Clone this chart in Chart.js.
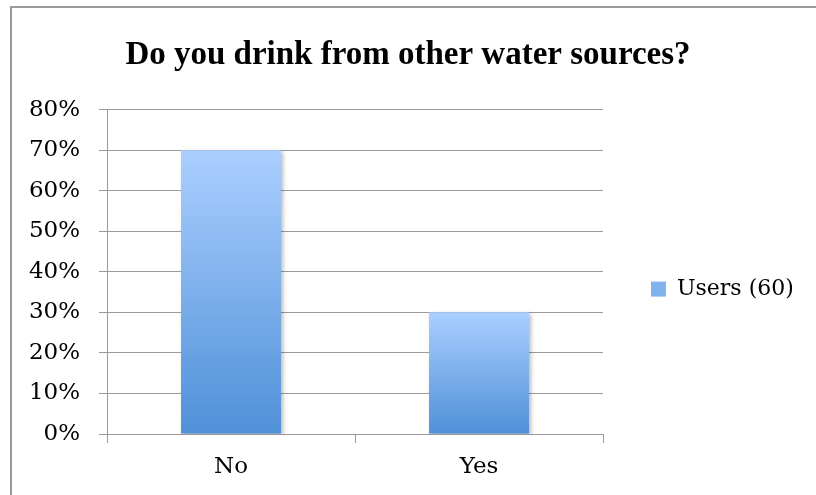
<!doctype html>
<html lang="en">
<head>
  <meta charset="UTF-8">
  <title>Other water sources</title>
  <script src="https://cdn.jsdelivr.net/npm/chart.js@4.4.0/dist/chart.umd.min.js"></script>
  <style>
      html, body {
          margin: 0;
          padding: 0;
          background: #fff;
          overflow: hidden;
      }
      .frame {
          position: absolute;
          left: 10px;
          top: 6px;
          width: 900px;
          height: 600px;
          border: 2px solid #9b9b9b;
      }
      .wrap {
          position: absolute;
          left: 0;
          top: 0;
          width: 816px;
          height: 495px;
      }
  </style>
</head>
<body>
<div class="frame"></div>
<div class="wrap">
  <canvas id="myChart" width="816" height="495"></canvas>
</div>

<script>
  const categories = ['No', 'Yes']
  const users = [70, 30]
  const yTicks = [0, 10, 20, 30, 40, 50, 60, 70, 80]
  const seriesName = 'Users (60)'
  const titleText = 'Do you drink from other water sources?'

  const serif = '"DejaVu Serif", serif'

  // per-bar vertical gradient: light at the top, darker at the base
  function barFill(ctx) {
    const chart = ctx.chart
    const area = chart.chartArea
    if (!area || ctx.dataIndex === undefined) return '#7fb0ec'
    const y = chart.scales.y
    const top = y.getPixelForValue(users[ctx.dataIndex])
    const base = y.getPixelForValue(0)
    const g = chart.ctx.createLinearGradient(0, top, 0, base)
    g.addColorStop(0, '#abcfff')
    g.addColorStop(1, '#4f90d8')
    return g
  }

  const barShadow = {
    id: 'barShadow',
    beforeDatasetsDraw(chart) {
      const c = chart.ctx
      c.save()
      c.shadowColor = 'rgba(0,0,0,0.28)'
      c.shadowBlur = 4
      c.shadowOffsetX = 2
      c.shadowOffsetY = 2
    },
    afterDatasetsDraw(chart) {
      chart.ctx.restore()
    }
  }

  // fixed legend column on the right side
  const legendWidth = {
    id: 'legendWidth',
    beforeInit(chart) {
      const lg = chart.legend
      if (!lg) return
      const fit = lg.fit
      lg.fit = function () {
        fit.call(this)
        this.width = 213
      }
    }
  }

  const chartDom = document.querySelector('#myChart')

  const chart = new Chart(chartDom, {
    type: 'bar',
    plugins: [barShadow, legendWidth],
    data: {
      labels: categories,
      datasets: [
        {
          label: seriesName,
          data: users,
          backgroundColor: barFill,
          borderWidth: 0,
          barPercentage: 0.403,
          categoryPercentage: 1
        }
      ]
    },
    options: {
      responsive: false,
      animation: false,
      devicePixelRatio: 1,
      layout: {
        padding: { left: 0, right: 0, top: 0, bottom: 0 }
      },
      plugins: {
        tooltip: { enabled: false },
        title: {
          display: true,
          text: titleText,
          color: '#000',
          font: { family: '"Liberation Serif", serif', size: 33, weight: 'bold' },
          padding: { top: 36, bottom: 34 }
        },
        legend: {
          position: 'right',
          align: 'center',
          // empty title only pushes the item down to the middle of the plot
          title: {
            display: true,
            text: '',
            color: '#000',
            font: { size: 1 },
            padding: { top: 82, bottom: 0 }
          },
          labels: {
            color: '#000',
            font: { family: serif, size: 22 },
            boxWidth: 15,
            boxHeight: 15,
            padding: 48,
            generateLabels: (ch) => [{
              text: seriesName,
              fillStyle: '#80b2ee',
              strokeStyle: '#80b2ee',
              fontColor: '#000',
              lineWidth: 0,
              hidden: false,
              datasetIndex: 0
            }]
          }
        }
      },
      scales: {
        x: {
          offset: true,
          grid: {
            offset: true,
            drawOnChartArea: false,
            drawTicks: true,
            tickLength: 9,
            color: '#9b9b9b',
            lineWidth: 1
          },
          border: { color: '#9b9b9b', width: 1 },
          ticks: {
            color: '#000',
            padding: 10,
            font: { family: serif, size: 23 }
          },
          afterFit: (scale) => { scale.height = 61 }
        },
        y: {
          min: 0,
          max: 80,
          afterBuildTicks: (scale) => {
            scale.ticks = yTicks.map(v => ({ value: v }))
          },
          grid: {
            color: '#9b9b9b',
            lineWidth: 1,
            drawTicks: true,
            tickLength: 8
          },
          border: { color: '#9b9b9b', width: 1 },
          ticks: {
            color: '#000',
            padding: 19,
            font: { family: serif, size: 23 },
            callback: (v) => v + '%'
          },
          afterFit: (scale) => { scale.width = 107 }
        }
      }
    }
  })
</script>

</body>
</html>
